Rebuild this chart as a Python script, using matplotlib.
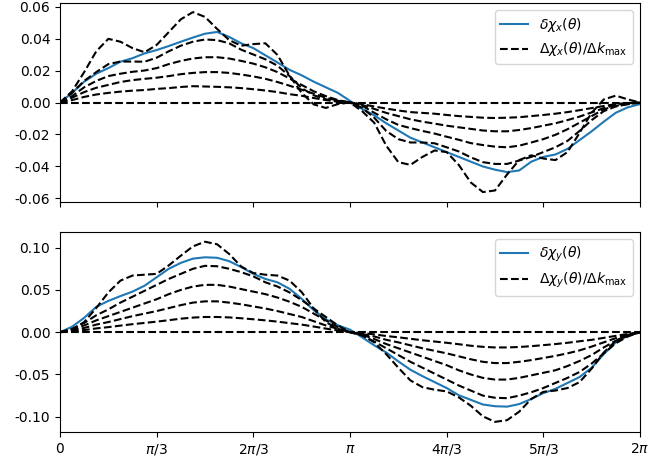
import numpy as np
import matplotlib
matplotlib.use("Agg")
import matplotlib.pyplot as plt

plt.rcParams['axes.unicode_minus'] = False

# angle grid: 0 .. 2*pi in steps of pi/24
theta = np.linspace(0, 2 * np.pi, 49)

# ---- top panel: chi_x ----
delta_chi_x = [0, 0.006, 0.013, 0.018, 0.0215, 0.0255, 0.0277, 0.0307, 0.0328, 0.0353, 0.038, 0.0406, 0.043, 0.0441, 0.041, 0.037, 0.034, 0.0295, 0.025, 0.0204, 0.017, 0.013, 0.0095, 0.006, 0.001,
               -0.004, -0.008, -0.013, -0.0175, -0.022, -0.025, -0.028, -0.031, -0.034, -0.037, -0.040, -0.042, -0.0435, -0.0425, -0.037, -0.034, -0.0325, -0.029, -0.0235, -0.018, -0.012, -0.0064, -0.003, -0.001]

dchi_x_1 = [0, 0.0015, 0.0035, 0.005, 0.006, 0.0068, 0.0074, 0.0078, 0.0085, 0.009, 0.0097, 0.0102, 0.0100, 0.0098, 0.0095, 0.009, 0.0083, 0.0075, 0.0065, 0.0052, 0.0042, 0.0028, 0.0015, 0.0005, 0,
            -0.001, -0.0025, -0.0038, -0.005, -0.006, -0.0065, -0.007, -0.0078, -0.0085, -0.009, -0.0095, -0.0097, -0.0095, -0.0092, -0.0085, -0.0078, -0.007, -0.006, -0.0048, -0.0035, -0.0022, -0.001, -0.0003, 0]
dchi_x_2 = [0, 0.003, 0.0065, 0.0092, 0.011, 0.0128, 0.014, 0.0148, 0.0155, 0.0165, 0.0177, 0.0185, 0.019, 0.019, 0.0185, 0.0175, 0.0163, 0.0148, 0.0128, 0.0105, 0.008, 0.0055, 0.003, 0.0012, 0,
            -0.0015, -0.004, -0.0065, -0.0085, -0.0105, -0.012, -0.0132, -0.0145, -0.0155, -0.0165, -0.0175, -0.018, -0.018, -0.0172, -0.016, -0.0145, -0.013, -0.011, -0.0088, -0.0062, -0.0035, -0.0015, -0.0005, 0]
dchi_x_3 = [0, 0.004, 0.0095, 0.0135, 0.0165, 0.018, 0.0192, 0.020, 0.0215, 0.024, 0.026, 0.0275, 0.0283, 0.0283, 0.0275, 0.026, 0.0243, 0.022, 0.019, 0.015, 0.011, 0.007, 0.004, 0.0015, 0,
            -0.002, -0.0064, -0.0105, -0.014, -0.016, -0.0178, -0.0194, -0.0214, -0.0233, -0.0254, -0.0266, -0.0276, -0.028, -0.027, -0.025, -0.0229, -0.0202, -0.0167, -0.0126, -0.0085, -0.0043, -0.002, -0.001, 0]
dchi_x_4 = [0, 0.006, 0.0135, 0.019, 0.024, 0.0256, 0.0256, 0.0255, 0.028, 0.032, 0.0355, 0.038, 0.0394, 0.039, 0.037, 0.033, 0.030, 0.027, 0.023, 0.0165, 0.009, 0.0045, 0.002, 0.001, 0,
            -0.0033, -0.0095, -0.0178, -0.0229, -0.025, -0.025, -0.0255, -0.028, -0.0306, -0.0343, -0.0373, -0.0384, -0.0384, -0.0363, -0.034, -0.031, -0.028, -0.024, -0.0178, -0.011, -0.0054, -0.0025, -0.001, 0]
dchi_x_5 = [0, 0.007, 0.019, 0.032, 0.0398, 0.038, 0.034, 0.0314, 0.036, 0.044, 0.052, 0.0565, 0.0535, 0.046, 0.039, 0.0355, 0.0365, 0.037, 0.0297, 0.0167, 0.006, -0.0012, -0.0034, -0.001, 0,
            -0.0054, -0.0126, -0.027, -0.0373, -0.039, -0.034, -0.030, -0.031, -0.039, -0.050, -0.056, -0.055, -0.045, -0.036, -0.033, -0.035, -0.036, -0.031, -0.019, -0.0064, 0.0019, 0.0043, 0.0019, 0]
dchi_x_0 = [0.0] * 49

# ---- bottom panel: chi_y ----
delta_chi_y = [0, 0.0065, 0.017, 0.030, 0.037, 0.0427, 0.048, 0.055, 0.065, 0.075, 0.082, 0.087, 0.0886, 0.088, 0.084, 0.077, 0.069, 0.063, 0.059, 0.0513, 0.0395, 0.026, 0.0153, 0.0082, 0.003,
               -0.006, -0.0155, -0.024, -0.0345, -0.0444, -0.052, -0.059, -0.066, -0.0745, -0.080, -0.0855, -0.0875, -0.088, -0.085, -0.079, -0.072, -0.067, -0.060, -0.053, -0.042, -0.026, -0.012, -0.004, 0]

dchi_y_1 = [0, 0.001, 0.0025, 0.0045, 0.006, 0.0078, 0.0095, 0.011, 0.0125, 0.0142, 0.016, 0.0173, 0.018, 0.018, 0.0175, 0.0165, 0.0153, 0.014, 0.0125, 0.0107, 0.009, 0.0067, 0.0043, 0.002, 0,
            -0.001, -0.0025, -0.0045, -0.006, -0.0078, -0.0095, -0.011, -0.0125, -0.0142, -0.016, -0.0173, -0.018, -0.018, -0.0175, -0.0165, -0.0153, -0.014, -0.0125, -0.0107, -0.009, -0.0067, -0.0043, -0.002, 0]
dchi_y_2 = [0, 0.002, 0.005, 0.009, 0.012, 0.0155, 0.019, 0.022, 0.025, 0.0285, 0.032, 0.035, 0.0365, 0.0365, 0.035, 0.033, 0.0305, 0.028, 0.025, 0.0215, 0.018, 0.013, 0.008, 0.004, 0,
            -0.002, -0.005, -0.009, -0.012, -0.0155, -0.019, -0.022, -0.025, -0.0285, -0.032, -0.035, -0.0365, -0.0365, -0.035, -0.033, -0.0305, -0.028, -0.025, -0.0215, -0.017, -0.012, -0.007, -0.003, 0]
dchi_y_3 = [0, 0.003, 0.008, 0.014, 0.019, 0.024, 0.029, 0.034, 0.039, 0.045, 0.050, 0.054, 0.056, 0.056, 0.054, 0.051, 0.048, 0.045, 0.041, 0.036, 0.030, 0.022, 0.014, 0.006, 0,
            -0.003, -0.008, -0.014, -0.019, -0.024, -0.029, -0.034, -0.039, -0.045, -0.050, -0.054, -0.056, -0.056, -0.054, -0.051, -0.048, -0.045, -0.040, -0.034, -0.027, -0.018, -0.010, -0.004, 0]
dchi_y_4 = [0, 0.004, 0.011, 0.020, 0.027, 0.035, 0.042, 0.049, 0.056, 0.063, 0.069, 0.075, 0.0785, 0.078, 0.075, 0.071, 0.066, 0.059, 0.054, 0.047, 0.038, 0.028, 0.018, 0.008, 0,
            -0.004, -0.011, -0.019, -0.027, -0.035, -0.042, -0.049, -0.056, -0.063, -0.069, -0.075, -0.0775, -0.078, -0.075, -0.071, -0.066, -0.060, -0.054, -0.047, -0.037, -0.025, -0.013, -0.005, 0]
dchi_y_5 = [0, 0.003, 0.012, 0.0286, 0.047, 0.061, 0.067, 0.068, 0.069, 0.079, 0.0905, 0.1015, 0.107, 0.104, 0.0925, 0.0776, 0.070, 0.068, 0.067, 0.061, 0.0474, 0.028, 0.012, 0.004, 0,
            -0.003, -0.012, -0.026, -0.042, -0.057, -0.065, -0.068, -0.070, -0.077, -0.087, -0.0995, -0.106, -0.104, -0.094, -0.079, -0.0705, -0.069, -0.066, -0.059, -0.043, -0.024, -0.010, -0.003, 0]
dchi_y_0 = [0.0] * 49

xtick_vals = [0, np.pi / 3, 2 * np.pi / 3, np.pi, 4 * np.pi / 3, 5 * np.pi / 3, 2 * np.pi]
xtick_labels = ['0', r'$\pi/3$', r'$2\pi/3$', r'$\pi$', r'$4\pi/3$', r'$5\pi/3$', r'$2\pi$']

fig = plt.figure(figsize=(6.72, 4.58), dpi=100)
W, H = 672, 458
ax1 = fig.add_axes([60 / W, 1 - 202 / H, 580 / W, 199 / H])
ax2 = fig.add_axes([60 / W, 1 - 432 / H, 580 / W, 200 / H], sharex=ax1)

# top
ax1.plot(theta, delta_chi_x, color='C0', lw=1.5, label=r'$\delta\chi_x(\theta)$')
dx = [dchi_x_0, dchi_x_1, dchi_x_2, dchi_x_3, dchi_x_4, dchi_x_5]
for i, d in enumerate(dx):
    ax1.plot(theta, d, 'k--', lw=1.5,
             label=r'$\Delta\chi_x(\theta)/\Delta k_{\rm max}$' if i == 0 else None)
ax1.set_ylim(-0.0622, 0.0622)
ax1.set_yticks([-0.06, -0.04, -0.02, 0.0, 0.02, 0.04, 0.06])
ax1.set_yticklabels(['-0.06', '-0.04', '-0.02', '0.00', '0.02', '0.04', '0.06'])
ax1.legend(loc='upper right')
ax1.tick_params(labelbottom=False)

# bottom
ax2.plot(theta, delta_chi_y, color='C0', lw=1.5, label=r'$\delta\chi_y(\theta)$')
dy = [dchi_y_0, dchi_y_1, dchi_y_2, dchi_y_3, dchi_y_4, dchi_y_5]
for i, d in enumerate(dy):
    ax2.plot(theta, d, 'k--', lw=1.5,
             label=r'$\Delta\chi_y(\theta)/\Delta k_{\rm max}$' if i == 0 else None)
ax2.set_ylim(-0.118, 0.1185)
ax2.set_yticks([-0.10, -0.05, 0.0, 0.05, 0.10])
ax2.set_yticklabels(['-0.10', '-0.05', '0.00', '0.05', '0.10'])
ax2.legend(loc='upper right')

ax2.set_xlim(0, 2 * np.pi)
ax2.set_xticks(xtick_vals)
ax2.set_xticklabels(xtick_labels)

fig.savefig('out.png', dpi=100)
